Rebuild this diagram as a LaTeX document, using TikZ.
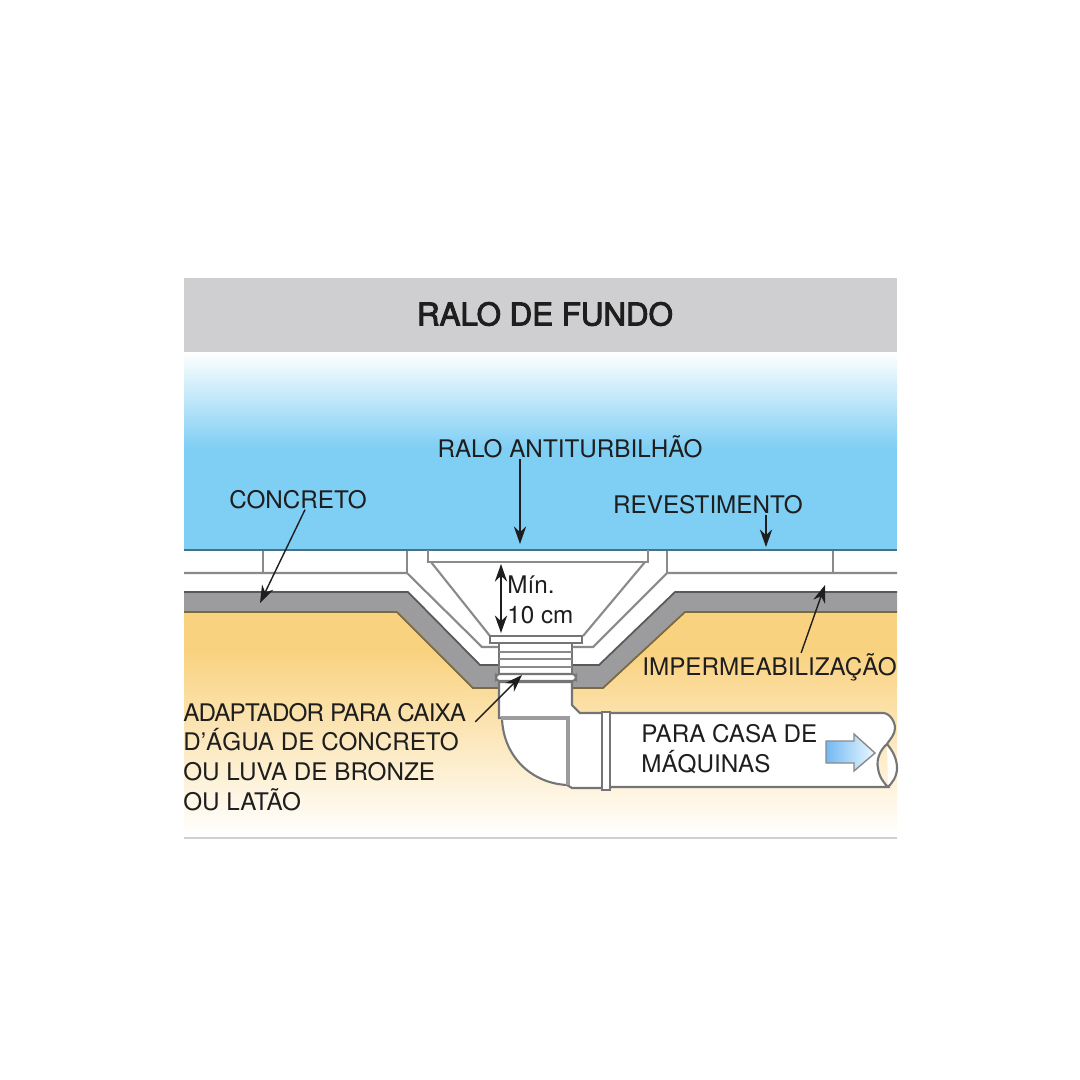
\documentclass[tikz,border=0pt]{standalone}
\usepackage{fontspec}
\setmainfont{TeX Gyre Heros}
\newfontfamily\tituloFont[FakeBold=3]{TeX Gyre Heros}
\definecolor{agua}{HTML}{7FCEF4}
\definecolor{areia}{HTML}{F9D27F}
\definecolor{titulo}{HTML}{CFCFD1}
\definecolor{manta}{HTML}{9C9B9D}
\definecolor{traco}{HTML}{8A8A8A}
\definecolor{texto}{HTML}{1E1E1E}
\tikzset{
  rotulo/.style={inner sep=0pt,text=texto,font=\fontsize{13.8}{17}\selectfont},
  linha/.style={draw=traco,line width=1.2pt},
  peca/.style={draw=traco!85!black,line width=1.2pt,fill=white},
  seta/.style={draw=texto,line width=.8pt,-{Stealth[length=10pt,width=7pt]}},
}
\usetikzlibrary{arrows.meta}
\begin{document}
\begin{tikzpicture}[x=0.02cm,y=-0.02cm]
    \useasboundingbox (0,0) rectangle (1080,1080);
    % fundos
    \fill[titulo] (184,278) rectangle (897,352);
    \shade[top color=white,bottom color=agua] (184,352) rectangle (897,448);
    \fill[agua] (184,448) rectangle (897,550);
    \fill[areia] (184,612) rectangle (897,650);
    \shade[top color=areia,bottom color=white] (184,650) rectangle (897,836);
    \draw[titulo,line width=1pt] (184,838) -- (897,838);
    % concreto e manta
    \fill[white] (184,550) -- (897,550) -- (897,592) -- (675,592) -- (599,665)
                 -- (480,665) -- (408,592) -- (184,592) -- cycle;
    \fill[manta] (184,592) -- (408,592) -- (480,665) -- (599,665) -- (675,592) -- (897,592)
                 -- (897,612) -- (685,612) -- (603,688) -- (473,688) -- (397,612) -- (184,612) -- cycle;
    \draw[black!65,line width=1pt] (184,592) -- (408,592) -- (480,665) -- (599,665) -- (675,592) -- (897,592);
    \draw[black!50!areia,line width=1pt] (184,612) -- (397,612) -- (473,688) -- (603,688) -- (685,612) -- (897,612);
    \draw[linha] (184,573) -- (407,573) -- (482,647) -- (499,647);
    \draw[linha] (897,573) -- (667,573) -- (593,647) -- (572,647);
    \draw[linha] (263,550) -- (263,573) (407,550) -- (407,573);
    \draw[linha] (667,550) -- (667,573) (833,550) -- (833,573);
    \draw[draw=black!45!agua,line width=1.2pt] (184,550) -- (897,550);
    % ralo
    \draw[linha] (428,550) -- (428,562) -- (648,562) -- (648,550);
    \draw[linha] (431,562) -- (490,636) (645,562) -- (583,636);
    % tubo e curva
    \path[peca] (602,713) -- (580,713) -- (572,705) -- (572,682) -- (499,682) -- (499,718) -- (502,718)
      .. controls (503,755) and (530,783) .. (567,785) -- (572,788) -- (610,788) -- cycle;
    \path[peca] (606,713) -- (883,713) .. controls (890,713) and (895,722) .. (895,728)
      .. controls (895,735) and (890,739) .. (887,744) .. controls (880,750) and (876,760) .. (878,768)
      .. controls (879,777) and (884,783) .. (888,787) -- (606,787) -- cycle;
    \path[draw=traco!85!black,line width=1.2pt,fill=white] (887,744) .. controls (892,750) and (897,758) .. (897,768)
      .. controls (897,777) and (892,783) .. (888,787);
    \draw[manta,line width=2.4pt] (501,718) -- (568,718) -- (568,785);
    \path[peca] (602,712) rectangle (610,790);
    % adaptador
    \path[peca] (499,643) rectangle (572,682);
    \draw[linha] (499,652) -- (572,652) (499,659) -- (572,659) (499,667) -- (572,667);
    \path[peca,rounded corners=2pt] (496,674) rectangle (576,681);
    \path[peca] (490,636) rectangle (582,643);
    % seta do tubo
    \shade[left color=agua!90!blue,right color=agua!15,draw=traco,line width=.8pt]
      (826,741) -- (854,741) -- (854,734) -- (875,753) -- (854,771) -- (854,763) -- (826,763) -- cycle;
    % textos
    \node[inner sep=0pt,text=texto,font=\fontsize{17.8}{22}\tituloFont\selectfont] (lblTitulo) at (545,314) {RALO DE FUNDO};
    \node[rotulo] (lblAntiturb) at (570,447) {RALO ANTITURBILHÃO};
    \node[rotulo] (lblConcreto) at (298,500) {CONCRETO};
    \node[rotulo] (lblRevest) at (708,505) {REVESTIMENTO};
    \node[rotulo,anchor=west,align=left] (lblMin) at (507,600) {Mín.\\10 cm};
    \node[rotulo,anchor=west] (lblImper) at (642,667) {IMPERMEABILIZAÇÃO};
    \node[rotulo,anchor=west,align=left] (lblAdapt) at (183,757) {{\addfontfeature{LetterSpace=-3.5}ADAPTADOR PARA CAIXA}\\D'ÁGUA DE CONCRETO\\OU LUVA DE BRONZE\\OU LATÃO};
    \node[rotulo,anchor=west,align=left] (lblMaquinas) at (641,749) {PARA CASA DE\\MÁQUINAS};
    % setas
    \coordinate (tipAnti) at (520,544);
    \coordinate (tipConcreto) at (260,603);
    \coordinate (tipRevest) at (766,547);
    \coordinate (tipImper) at (825,585);
    \coordinate (tipAdapt) at (522,675);
    \coordinate (minTopo) at (501,564);
    \coordinate (minBase) at (501,633);
    \draw[seta] (lblAntiturb.south -| tipAnti) -- (tipAnti);
    \draw[seta] ([xshift=4pt]lblConcreto.south) -- (tipConcreto);
    \draw[seta] (lblRevest.south -| tipRevest) -- (tipRevest);
    \draw[seta] ([xshift=18pt]lblImper.north) -- (tipImper);
    \draw[seta] ([shift={(5pt,-11pt)}]lblAdapt.north east) -- (tipAdapt);
    \draw[seta,{Stealth[length=10pt,width=7pt]}-{Stealth[length=10pt,width=7pt]}] (minTopo) -- (minBase);
\end{tikzpicture}
\end{document}
